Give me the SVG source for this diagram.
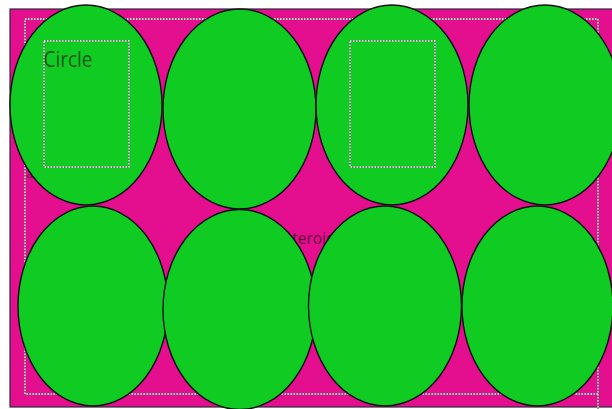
<svg xmlns="http://www.w3.org/2000/svg" width="612" height="409" viewBox="0 0 612 409">
<style>
.bg{fill:#e30f8e;stroke:#2a2a3a;stroke-width:1.2}
.dotu{fill:none;stroke:#6a6a6a;stroke-width:1.3}
.dot{fill:none;stroke:#f0f0f0;stroke-width:1.3;stroke-dasharray:1.5 1.5}
.ell{fill:#10cb22;stroke:#111;stroke-width:1.4}
.lbl{font-family:"Open Sans","Liberation Sans",sans-serif;fill:#000;fill-opacity:0.6}
</style>
<rect width="612" height="409" fill="#ffffff"/>
<g id="background">
<rect class="bg" x="10" y="9" width="610" height="398"/>
<rect class="dotu" x="25" y="19" width="573" height="375"/>
<rect class="dot" x="25" y="19" width="573" height="375"/>
<line class="dotu" x1="598" y1="394" x2="598" y2="409"/>
<line class="dot" x1="598" y1="394" x2="598" y2="409"/>
<text class="lbl" x="275" y="244" font-size="15.5">Asteroid</text>
<text class="lbl" x="26" y="178" font-size="13">a</text>
</g>
<g id="circle1"><ellipse class="ell" cx="86" cy="105" rx="76" ry="100"/></g>
<g id="circle2"><ellipse class="ell" cx="239.5" cy="109" rx="76.5" ry="100"/></g>
<g id="circle3"><ellipse class="ell" cx="392" cy="105" rx="76" ry="100"/></g>
<g id="circle4"><ellipse class="ell" cx="545" cy="105" rx="76" ry="100"/></g>
<g id="circle5"><ellipse class="ell" cx="93" cy="306" rx="75" ry="100"/></g>
<g id="circle6"><ellipse class="ell" cx="239.5" cy="309.5" rx="76.5" ry="100"/></g>
<g id="circle7"><ellipse class="ell" cx="385" cy="306" rx="76.5" ry="100"/></g>
<g id="circle8"><ellipse class="ell" cx="537.5" cy="306" rx="75.5" ry="100"/></g>
<g id="frame1">
<rect class="dotu" x="44" y="41" width="85" height="126"/>
<rect class="dot" x="44" y="41" width="85" height="126"/>
<text class="lbl" x="43.5" y="67" font-size="22" textLength="49" lengthAdjust="spacingAndGlyphs">Circle</text>
</g>
<g id="frame2">
<rect class="dotu" x="350" y="41" width="85" height="126"/>
<rect class="dot" x="350" y="41" width="85" height="126"/>
</g>
<g id="connectors"></g>
</svg>
